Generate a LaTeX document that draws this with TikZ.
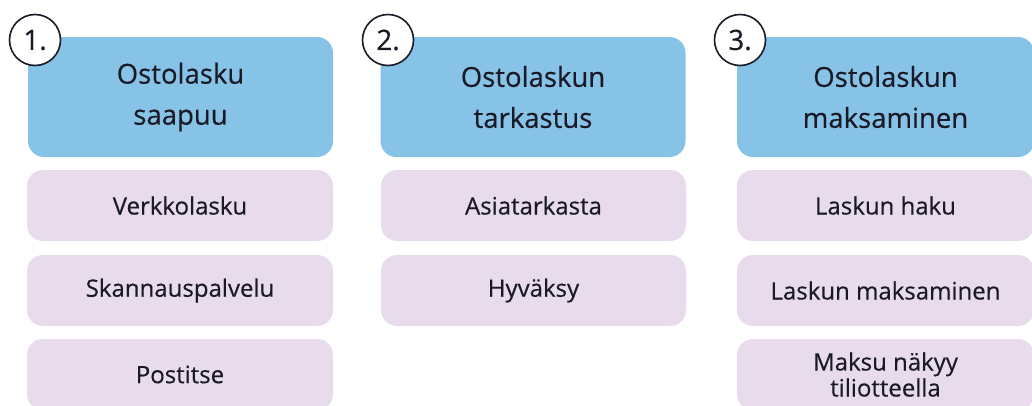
\documentclass[tikz,border=0pt]{standalone}
\usepackage{fontspec}
\setmainfont{Open Sans}
\newfontfamily\thickfont[FakeBold=0.4]{Open Sans}
\definecolor{hblue}{HTML}{86C3E6}
\definecolor{spink}{HTML}{E8DCEC}
\definecolor{ink}{HTML}{1A1A26}
\begin{document}
\begin{tikzpicture}[x=1pt,y=-1pt,
  head/.style={fill=hblue, draw=none, rounded corners=16pt, minimum height=120pt,
    align=center, text=ink, font=\thickfont\fontsize{27.5}{41}\selectfont, inner sep=0pt},
  sub/.style={fill=spink, draw=none, rounded corners=16pt, minimum height=71pt,
    align=center, text=ink, font=\thickfont\fontsize{24}{26}\selectfont, inner sep=0pt},
  num/.style={circle, draw=ink, line width=1.6pt, fill=white, minimum size=51pt,
    inner sep=0pt, text=ink, font=\thickfont\fontsize{28}{30}\selectfont}]
\useasboundingbox (0,0) rectangle (1032,405);
\clip (0,0) rectangle (1032,405);
\fill[white] (0,0) rectangle (1032,405);
% column 1
\node[head, minimum width=305pt] (h1) at (180.5,97) {Ostolasku\\saapuu};
\node[sub, minimum width=306pt] (a1) at (180,205.5) {Verkkolasku};
\node[sub, minimum width=306pt] (a2) at (180,290.5) {Skannauspalvelu};
\node[sub, minimum width=306pt] (a3) at (180,374.5) {Postitse};
% column 2
\node[head, minimum width=305pt] (h2) at (533,97) {Ostolaskun\\tarkastus};
\node[sub, minimum width=305pt] (b1) at (533.5,205.5) {Asiatarkasta};
\node[sub, minimum width=305pt] (b2) at (533.5,290.5) {Hyväksy};
% column 3
\node[head, minimum width=297pt] (h3) at (885.5,97) {Ostolaskun\\maksaminen};
\node[sub, minimum width=297pt] (c1) at (885.5,205.5) {Laskun haku};
\node[sub, minimum width=297pt] (c2) at (885.5,290.5) {Laskun maksaminen};
\node[sub, minimum width=297pt] (c3) at (885.5,374.5) {Maksu näkyy\\tiliotteella};
% numbers
\node[num] (n1) at (35,40) {1.};
\node[num] (n2) at (388,40) {2.};
\node[num] (n3) at (740,40) {3.};
\end{tikzpicture}
\end{document}
